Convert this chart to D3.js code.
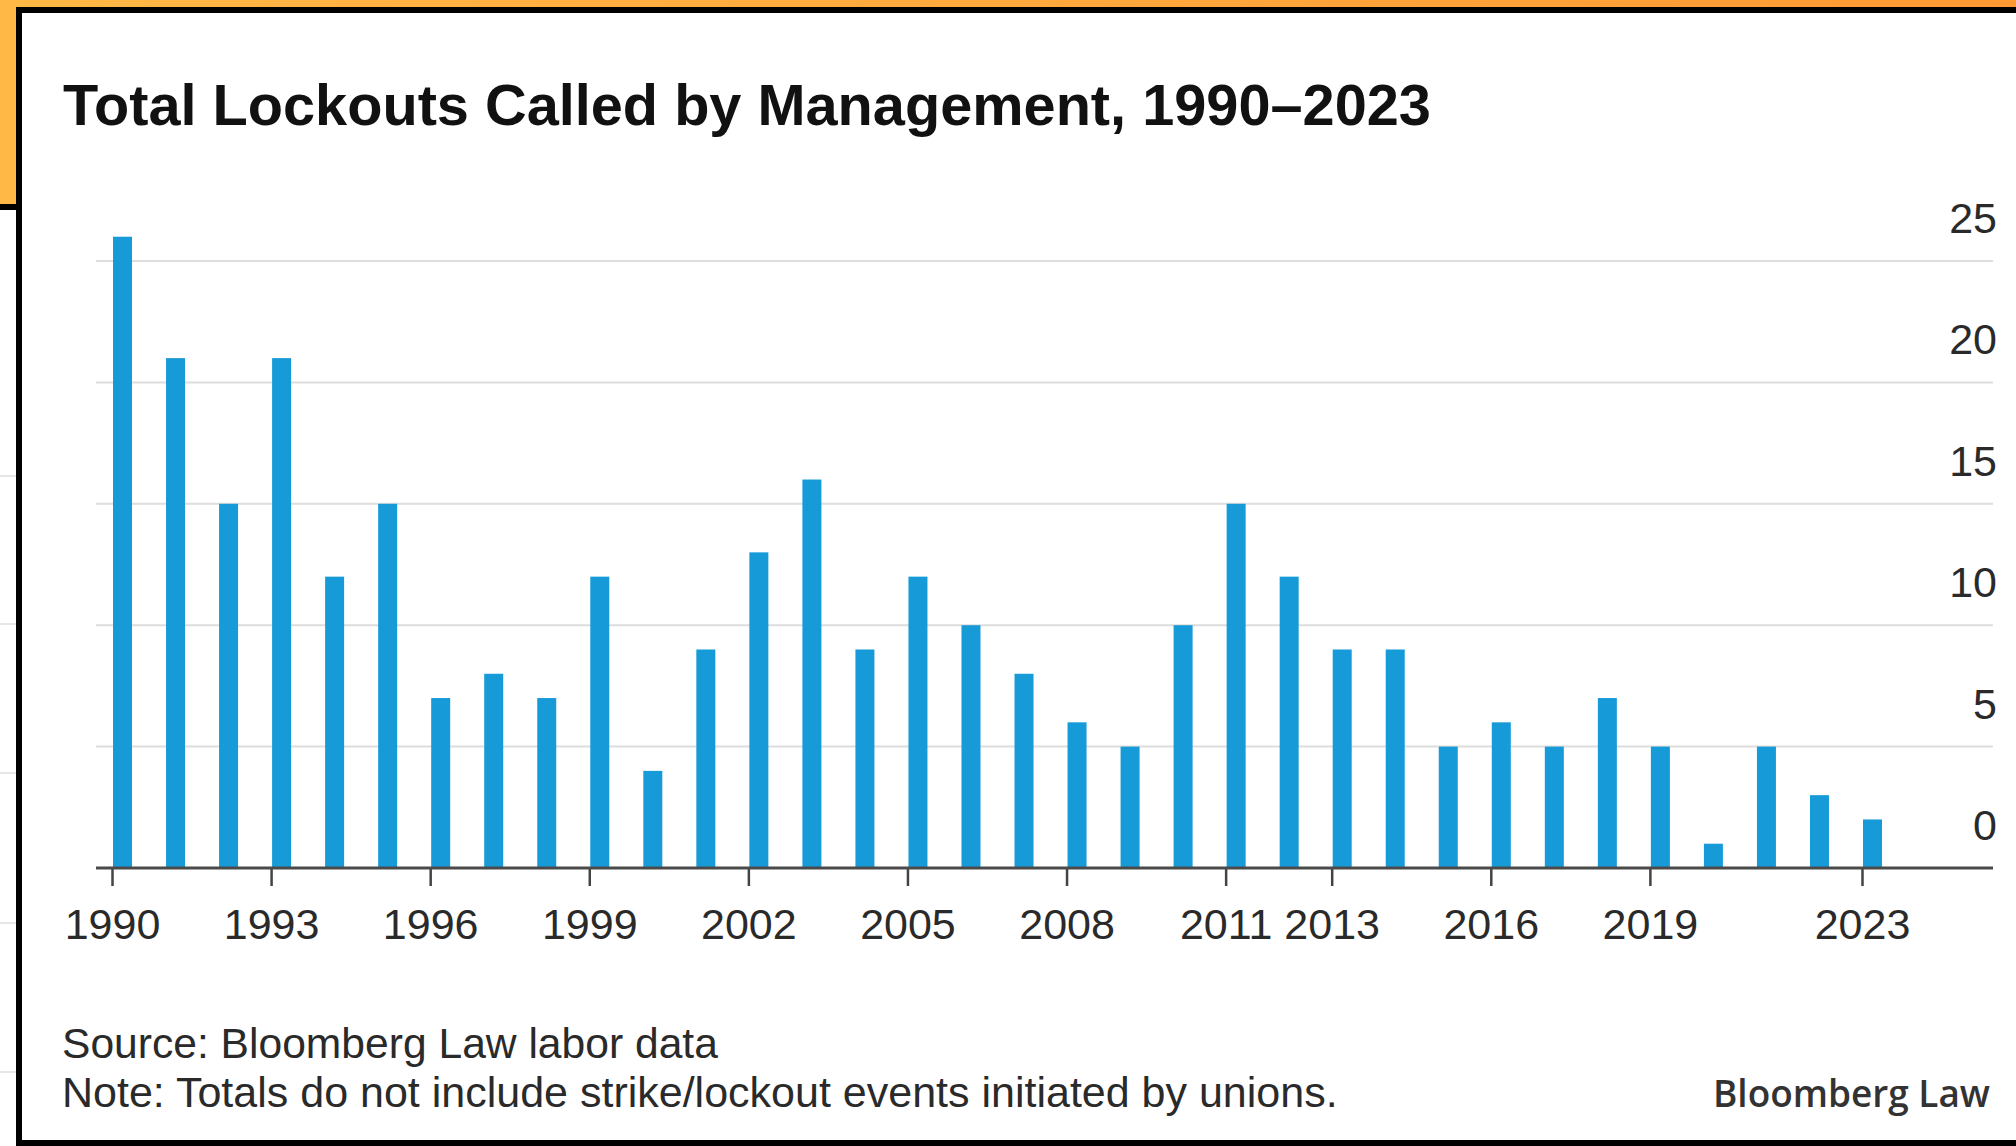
<!DOCTYPE html>
<html>
<head>
<meta charset="utf-8">
<script src="https://cdn.jsdelivr.net/npm/d3@7"></script>
<style>
  html, body { margin: 0; padding: 0; background: #ffffff; }
  svg { display: block; }
  text { font-family: "Liberation Sans", Arial, sans-serif; }
</style>
</head>
<body>
<svg id="chart" width="2016" height="1146"></svg>
<script>
// ---- data ----
const years = [1990,1991,1992,1993,1994,1995,1996,1997,1998,1999,2000,2001,2002,2003,2004,2005,2006,2007,2008,2009,2010,2011,2012,2013,2014,2015,2016,2017,2018,2019,2020,2021,2022,2023];
const lockouts = [26,21,15,21,12,15,7,8,7,12,4,9,13,16,9,12,10,8,6,5,10,15,12,9,9,5,6,5,7,5,1,5,3,2];
const xTickYears = [1990,1993,1996,1999,2002,2005,2008,2011,2013,2016,2019,2023];
const yTickValues = [0,5,10,15,20,25];
const titleText = "Total Lockouts Called by Management, 1990\u20132023";
const sourceText = "Source: Bloomberg Law labor data";
const noteText = "Note: Totals do not include strike/lockout events initiated by unions.";
const brandText = "Bloomberg Law";

const W = 2016, H = 1146;
const svg = d3.select("#chart");

// ---- background frame (screenshot look) ----
const defs = svg.append("defs");
const grad = defs.append("linearGradient").attr("id", "org").attr("x1", "0").attr("x2", "1").attr("y1", "0").attr("y2", "0");
grad.append("stop").attr("offset", "0").attr("stop-color", "#ffb845");
grad.append("stop").attr("offset", "1").attr("stop-color", "#ff9934");

svg.append("rect").attr("x", 0).attr("y", 0).attr("width", W).attr("height", H).attr("fill", "#ffffff");
// faint lines of a chart behind the card
[476, 624, 773, 923, 1072].forEach(yy => {
  svg.append("line").attr("x1", 0).attr("x2", 16).attr("y1", yy).attr("y2", yy)
    .attr("stroke", "#e6e6e6").attr("stroke-width", 2);
});
svg.append("rect").attr("x", 0).attr("y", 0).attr("width", W).attr("height", 9).attr("fill", "url(#org)");
svg.append("rect").attr("x", 0).attr("y", 0).attr("width", 18).attr("height", 205).attr("fill", "#ffb845");
svg.append("rect").attr("x", 0).attr("y", 204).attr("width", 18).attr("height", 6).attr("fill", "#000");
// card
svg.append("rect").attr("x", 19).attr("y", 10).attr("width", W + 20).attr("height", 1133)
  .attr("fill", "#ffffff").attr("stroke", "#000").attr("stroke-width", 6);

// ---- scales ----
const x = d3.scaleLinear().domain([1990, 2023]).range([112, 1862]);
const y = d3.scaleLinear().domain([0, 25]).range([868, 261]);
const barW = 19;
const gridX1 = 96, gridX2 = 1993;

// ---- gridlines ----
svg.append("g").selectAll("line").data(yTickValues.filter(v => v > 0)).join("line")
  .attr("x1", gridX1).attr("x2", gridX2)
  .attr("y1", d => y(d)).attr("y2", d => y(d))
  .attr("stroke", "#dddddd").attr("stroke-width", 2);

// ---- y labels (right side, above gridlines) ----
svg.append("g").selectAll("text").data(yTickValues).join("text")
  .attr("x", 1997).attr("y", d => y(d) - 28)
  .attr("text-anchor", "end")
  .attr("font-size", 43).attr("fill", "#2a2a2a")
  .text(d => d);

// ---- bars ----
svg.append("g").selectAll("rect").data(years).join("rect")
  .attr("x", (d) => x(d) + 1)
  .attr("width", barW)
  .attr("y", (d, i) => y(lockouts[i]))
  .attr("height", (d, i) => y(0) - y(lockouts[i]))
  .attr("fill", "#179bd8");

// ---- x axis ----
const xAxis = d3.axisBottom(x).tickValues(xTickYears).tickFormat(d3.format("d"))
  .tickSize(18).tickPadding(22);
const gx = svg.append("g").attr("transform", `translate(0,${y(0)})`).call(xAxis);
gx.select(".domain").remove();
gx.selectAll(".tick line").attr("stroke", "#444").attr("stroke-width", 2.5);
gx.selectAll(".tick text").attr("font-size", 43).attr("fill", "#2a2a2a")
  .attr("font-family", "Liberation Sans, Arial, sans-serif");
svg.append("line").attr("x1", gridX1).attr("x2", gridX2).attr("y1", y(0)).attr("y2", y(0))
  .attr("stroke", "#4a4a4a").attr("stroke-width", 3);

// ---- title ----
svg.append("text").attr("x", 63).attr("y", 125)
  .attr("font-size", 57.7).attr("font-weight", "bold").attr("fill", "#111")
  .text(titleText);

// ---- footer ----
svg.append("text").attr("x", 62).attr("y", 1058)
  .attr("font-size", 42.6).attr("fill", "#2a2a2a").text(sourceText);
svg.append("text").attr("x", 62).attr("y", 1107)
  .attr("font-size", 43).attr("fill", "#2a2a2a").text(noteText);
svg.append("text").attr("x", 1713).attr("y", 1107)
  .attr("font-size", 37).attr("font-weight", 600).attr("fill", "#333")
  .style("font-family", "'Open Sans', sans-serif")
  .attr("textLength", 277).attr("lengthAdjust", "spacingAndGlyphs")
  .text(brandText);
</script>
</body>
</html>
